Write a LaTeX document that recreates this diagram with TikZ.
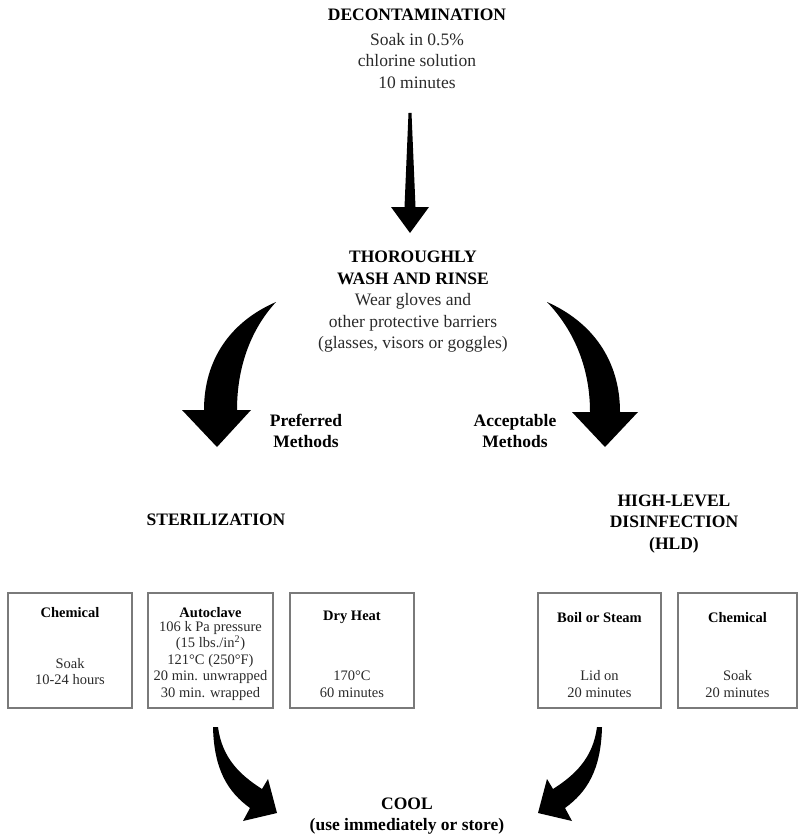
\documentclass[tikz,border=0pt]{standalone}
\usepackage{fontspec}
\setmainfont{Liberation Serif}
\definecolor{boxgray}{HTML}{7A7A7A}
\definecolor{txt}{HTML}{2A2A2A}
\begin{document}
\begin{tikzpicture}[x=1pt,y=-1pt,
  head/.style={inner sep=0pt,align=center,font=\fontsize{17.5}{21.5}\selectfont\bfseries,text=black},
  body/.style={inner sep=0pt,align=center,font=\fontsize{17.5}{21.5}\selectfont,text=txt},
  boxframe/.style={draw=boxgray,line width=1.6pt,inner sep=0pt,minimum height=115pt},
  boxtitle/.style={inner sep=0pt,align=center,font=\fontsize{14.5}{16}\selectfont\bfseries,text=black},
  boxbody/.style={inner sep=0pt,align=center,font=\fontsize{14.5}{16.5}\selectfont,text=txt},
  bigarrow/.style={fill=black,draw=none}]
\useasboundingbox (0,0) rectangle (798,837);

% top block
\node[head] (decon) at (417,15) {DECONTAMINATION};
\node[body] (soak) at (417,61) {Soak in 0.5\%\\chlorine solution\\10 minutes};

% down arrow
\fill[bigarrow] (408.5,113) -- (411.5,113) -- (415.5,207) -- (429,207) -- (410,233) -- (391,207) -- (404.5,207) -- cycle;

% wash block
\node[body] (wash) at (413,302) {\textbf{\color{black}THOROUGHLY}\\\textbf{\color{black}WASH AND RINSE}\\Wear gloves and\\other protective barriers\\(glasses, visors or goggles)};

% left big curved arrow
\fill[bigarrow] (276,302) .. controls (230,322) and (204,360) .. (204,410)
  -- (182,410) -- (217,447) -- (251,410) -- (237,410)
  .. controls (237,365) and (252,328) .. (276,302) -- cycle;
% right big curved arrow
\fill[bigarrow] (547,302) .. controls (592,322) and (620,360) .. (620,412)
  -- (638,412) -- (605,447) -- (572,412) -- (590,412)
  .. controls (590,365) and (572,328) .. (547,302) -- cycle;

\node[head] (pref) at (306,431) {Preferred\\Methods};
\node[head] (acc) at (515,431) {Acceptable\\Methods};

\node[head] (ster) at (216,520) {STERILIZATION};
\node[head] (hld) at (674,524) {HIGH-LEVEL\\DISINFECTION\\(HLD)};

% boxes
\node[boxframe,minimum width=124pt] (b1) at (70,650.5) {};
\node[boxframe,minimum width=125pt] (b2) at (210.5,650.5) {};
\node[boxframe,minimum width=124pt] (b3) at (352,650.5) {};
\node[boxframe,minimum width=123pt] (b4) at (599.5,650.5) {};
\node[boxframe,minimum width=119pt] (b5) at (737.5,650.5) {};

\node[boxtitle] (b1t) at (70,613) {Chemical};
\node[boxbody] (b1b) at (70,671.5) {Soak\\10-24 hours};

\node[boxtitle] (b2t) at (210.5,613) {Autoclave};
\node[boxbody] (b2b) at (210.5,661) {106 k Pa pressure\\(15 lbs./in\textsuperscript{2})\\121\textdegree C (250\textdegree F)\\20 min. unwrapped\\30 min. wrapped};

\node[boxtitle] (b3t) at (352,617) {Dry Heat};
\node[boxbody] (b3b) at (352,684) {170\textdegree C\\60 minutes};

\node[boxtitle] (b4t) at (599.5,618) {Boil or Steam};
\node[boxbody] (b4b) at (599.5,684) {Lid on\\20 minutes};

\node[boxtitle] (b5t) at (737.5,618) {Chemical};
\node[boxbody] (b5b) at (737.5,684) {Soak\\20 minutes};

% bottom arrows
\fill[bigarrow] (213,727) .. controls (214,770) and (228,792) .. (250,808)
  -- (243,821) -- (277,813) -- (268,779) -- (262,789)
  .. controls (240,775) and (222,758) .. (218,727) -- cycle;
\fill[bigarrow] (602,727) .. controls (601,770) and (587,792) .. (565,808)
  -- (572,821) -- (538,813) -- (547,779) -- (553,789)
  .. controls (575,775) and (593,758) .. (597,727) -- cycle;

\node[head] (cool) at (407,816) {COOL\\(use immediately or store)};
\end{tikzpicture}
\end{document}
